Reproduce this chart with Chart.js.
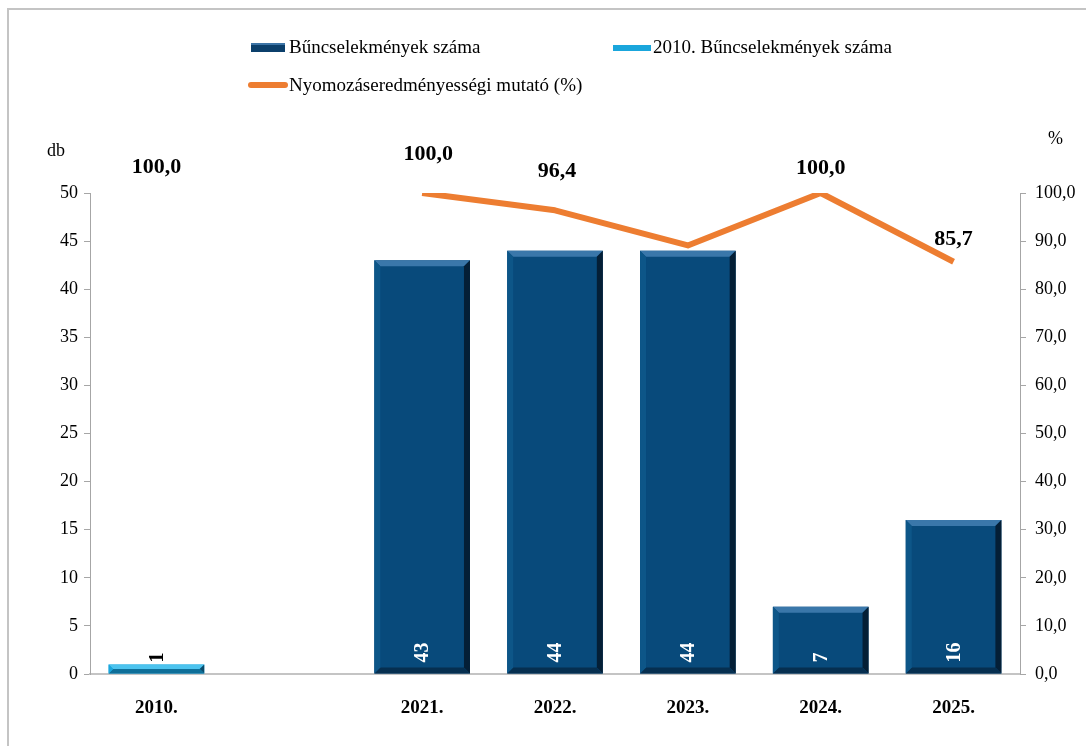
<!DOCTYPE html>
<html>
<head>
<meta charset="utf-8">
<script src="https://cdn.jsdelivr.net/npm/chart.js@4/dist/chart.umd.min.js"></script>
<style>
  body { margin: 0; background: #fff; overflow: hidden; font-family: "Liberation Serif", "Times New Roman", serif; }
  #wrap { position: relative; width: 1086px; height: 746px; }
  #frame { position: absolute; left: 7px; top: 8px; width: 1200px; height: 900px; border-left: 2px solid #c4c4c4; border-top: 2px solid #c4c4c4; }
  canvas { position: absolute; left: 0; top: 0; }
  .lbl { position: absolute; font-size: 19px; color: #000; white-space: nowrap; }
  .ax { position: absolute; font-size: 18px; color: #000; white-space: nowrap; }
  .sw { position: absolute; }
</style>
</head>
<body>
<div id="wrap">
  <div id="frame"></div>
  <canvas id="myChart" width="1086" height="746"></canvas>
  <div class="sw" style="left:251px;top:43px;width:34px;height:9px;background:#0b3f6b;border-top:2px solid #3c74a6;box-sizing:border-box;"></div>
  <div class="lbl" style="left:289px;top:36px;">Bűncselekmények száma</div>
  <div class="sw" style="left:613px;top:45px;width:38px;height:6px;background:#1aa6dc;"></div>
  <div class="lbl" style="left:653px;top:36px;">2010. Bűncselekmények száma</div>
  <div class="sw" style="left:248px;top:82px;width:40px;height:6px;background:#ed7d31;border-radius:3px;"></div>
  <div class="lbl" style="left:289px;top:74px;">Nyomozáseredményességi mutató (%)</div>
  <div class="ax" style="left:47px;top:140px;">db</div>
  <div class="ax" style="left:1048px;top:128px;">%</div>
</div>
<script>
const categories = ['2010.', '', '2021.', '2022.', '2023.', '2024.', '2025.'];
const crimeCounts = [null, null, 43, 44, 44, 7, 16];
const crimeCounts2010 = [1, null, null, null, null, null, null];
const clearanceRate = [100, null, 100, 96.4, 89.1, 100, 85.7];
const rateLabelShown = [true, false, true, true, false, true, true];

const fmt = v => v.toFixed(1).replace('.', ',');

// label placement above the line points (styling only)
const rateLabelOffsets = [
  { dx: 0, dy: -26 }, null, { dx: 6, dy: -39 }, { dx: 2, dy: -39 },
  null, { dx: 0, dy: -25 }, { dx: 0, dy: -22 },
];

// bevel look for the bars + vertical value labels near the base
const barStyler = {
  id: 'barStyler',
  afterDatasetDraw(chart, args) {
    const ds = chart.data.datasets[args.index];
    if (ds.type === 'line') return;
    const ctx = chart.ctx;
    const meta = args.meta;
    meta.data.forEach((bar, i) => {
      const v = ds.data[i];
      if (v === null) return;
      const left = bar.x - bar.width / 2;
      const right = bar.x + bar.width / 2;
      const top = bar.y;
      const bottom = bar.base;
      const h = bottom - top;
      const b = Math.min(6, h / 2);
      ctx.save();
      // top bevel
      ctx.fillStyle = ds.bevelLight;
      ctx.beginPath();
      ctx.moveTo(left, top); ctx.lineTo(right, top);
      ctx.lineTo(right - b, top + b); ctx.lineTo(left + b, top + b);
      ctx.closePath(); ctx.fill();
      // right bevel
      ctx.fillStyle = ds.bevelDark;
      ctx.beginPath();
      ctx.moveTo(right, top); ctx.lineTo(right, bottom);
      ctx.lineTo(right - b, bottom - b); ctx.lineTo(right - b, top + b);
      ctx.closePath(); ctx.fill();
      // bottom bevel
      ctx.fillStyle = ds.bevelBottom;
      ctx.beginPath();
      ctx.moveTo(left, bottom); ctx.lineTo(right, bottom);
      ctx.lineTo(right - b, bottom - b); ctx.lineTo(left + b, bottom - b);
      ctx.closePath(); ctx.fill();
      // left bevel
      ctx.fillStyle = ds.bevelLeft;
      ctx.beginPath();
      ctx.moveTo(left, top); ctx.lineTo(left + b, top + b);
      ctx.lineTo(left + b, bottom - b); ctx.lineTo(left, bottom);
      ctx.closePath(); ctx.fill();

      // value label
      ctx.translate(bar.x, bottom - 11);
      ctx.rotate(-Math.PI / 2);
      ctx.font = 'bold 20px "Liberation Serif", serif';
      ctx.textAlign = 'left';
      ctx.textBaseline = 'middle';
      ctx.fillStyle = ds.labelColor;
      ctx.fillText(String(v), 0, 1);
      ctx.restore();
    });
  },
};

const lineLabels = {
  id: 'lineLabels',
  afterDatasetsDraw(chart) {
    const idx = chart.data.datasets.findIndex(d => d.type === 'line');
    const meta = chart.getDatasetMeta(idx);
    const ds = chart.data.datasets[idx];
    const ctx = chart.ctx;
    ctx.save();
    ctx.font = 'bold 22px "Liberation Serif", serif';
    ctx.fillStyle = '#000';
    ctx.textAlign = 'center';
    ctx.textBaseline = 'middle';
    meta.data.forEach((pt, i) => {
      if (!rateLabelShown[i] || ds.data[i] === null) return;
      const off = rateLabelOffsets[i];
      ctx.fillText(fmt(ds.data[i]), pt.x + off.dx, pt.y + off.dy);
    });
    ctx.restore();
  },
};

const axisColor = '#a6a6a6';
const tickFont = { family: '"Liberation Serif", serif', size: 18 };

new Chart(document.getElementById('myChart').getContext('2d'), {
  data: {
    labels: categories,
    datasets: [
      {
        type: 'line',
        label: 'Nyomozáseredményességi mutató (%)',
        data: clearanceRate,
        yAxisID: 'yRate',
        borderColor: '#ed7d31',
        borderWidth: 6,
        pointRadius: 0,
        tension: 0,
        order: 0,
        borderJoinStyle: 'round',
      },
      {
        type: 'bar',
        label: 'Bűncselekmények száma',
        data: crimeCounts,
        yAxisID: 'yCount',
        backgroundColor: '#084a7b',
        bevelLight: '#3a77aa',
        bevelDark: '#041f36',
        bevelBottom: '#062f50',
        bevelLeft: '#0d5688',
        labelColor: '#ffffff',
        barPercentage: 0.72,
        categoryPercentage: 1,
        order: 1,
      },
      {
        type: 'bar',
        label: '2010. Bűncselekmények száma',
        data: crimeCounts2010,
        yAxisID: 'yCount',
        backgroundColor: '#1aa6dc',
        bevelLight: '#4cc3ee',
        bevelDark: '#0b4a6a',
        bevelBottom: '#0e6f99',
        bevelLeft: '#1aa6dc',
        labelColor: '#000000',
        barPercentage: 0.72,
        categoryPercentage: 1,
        order: 1,
      },
    ],
  },
  options: {
    responsive: false,
    devicePixelRatio: 1,
    animation: false,
    layout: { padding: { top: 193, left: 0, right: 0, bottom: 0 } },
    plugins: { legend: { display: false }, tooltip: { enabled: false } },
    scales: {
      x: {
        stacked: true,
        grid: { display: false },
        border: { display: true, color: '#c4c4c4', width: 2 },
        ticks: { color: '#000', font: { ...tickFont, size: 19, weight: 'bold' }, padding: 15, maxRotation: 0 },
        afterFit: s => { s.height = 72; },
      },
      yCount: {
        position: 'left',
        min: 0,
        max: 50,
        ticks: { stepSize: 5, color: '#000', font: tickFont, padding: 6 },
        grid: { drawOnChartArea: false, tickLength: 6, color: axisColor },
        border: { display: true, color: axisColor },
        afterFit: s => { s.width = 90; },
      },
      yRate: {
        position: 'right',
        min: 0,
        max: 100,
        ticks: { stepSize: 10, color: '#000', font: tickFont, padding: 9, callback: v => fmt(v) },
        grid: { drawOnChartArea: false, tickLength: 6, color: axisColor },
        border: { display: true, color: axisColor },
        afterFit: s => { s.width = 66; },
      },
    },
  },
  plugins: [barStyler, lineLabels],
});
</script>
</body>
</html>
